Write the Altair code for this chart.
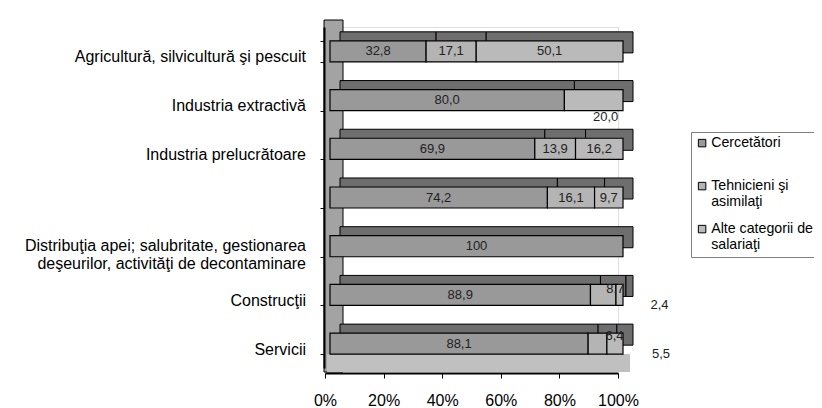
import altair as alt
import pandas as pd

categories = [
    "Agricultură, silvicultură şi pescuit",
    "Industria extractivă",
    "Industria prelucrătoare",
    " ",
    "Distribuţia apei; salubritate, gestionarea|deşeurilor, activităţi de decontaminare",
    "Construcţii",
    "Servicii",
]
series = ["Cercetători|", "Tehnicieni şi|asimilaţi", "Alte categorii de|salariaţi"]
cercetatori = [32.8, 80.0, 69.9, 74.2, 100.0, 88.9, 88.1]
tehnicieni = [17.1, 0.0, 13.9, 16.1, 0.0, 8.7, 6.4]
alte = [50.1, 20.0, 16.2, 9.7, 0.0, 2.4, 5.5]
x_ticks = [0, 20, 40, 60, 80, 100]

colors = ["#999999", "#b4b4b4", "#bababa"]
FONT = "Liberation Sans"


def fmt(v):
    return "100" if v == 100 else f"{v:.1f}".replace(".", ",")


rows = []
for i, cat in enumerate(categories):
    start = 0.0
    for j, vals in enumerate([cercetatori, tehnicieni, alte]):
        v = vals[i]
        if v > 0:
            rows.append(dict(cat=cat, series=series[j], start=start, end=start + v,
                             mid=start + v / 2, label=fmt(v), key=f"{i}-{j}"))
        start += v
df = pd.DataFrame(rows)
cat_df = pd.DataFrame({"cat": categories, "multi": ["|" in c for c in categories]})

# label placement tweaks (style only): key -> (dx, dy)
special = {"1-2": (17, 17), "5-1": (17, -6), "5-2": (45, 10), "6-1": (22, -8), "6-2": (51, 10)}

x_scale = alt.Scale(domain=[0, 100], nice=False)
y_scale = alt.Scale(paddingInner=0.568, paddingOuter=0.284)

x_axis = alt.Axis(values=x_ticks, labelExpr="datum.value + '%'", title=None,
                  domainColor="black", domainWidth=2, offset=5, zindex=1,
                  tickColor="black", tickSize=5, labelFontSize=16, labelFlush=False,
                  labelColor="black", labelFont=FONT, labelPadding=14, grid=False)
y_axis = alt.Axis(title=None, labels=False,
                  domainColor="black", domainWidth=2, offset=1, zindex=1,
                  tickColor="black", tickSize=4, tickBand="extent", grid=False)


def X(field):
    return alt.X(field, scale=x_scale, axis=x_axis)


def Y():
    return alt.Y("cat:N", sort=categories, scale=y_scale, axis=y_axis)


base = alt.Chart(df)

frame = alt.Chart(pd.DataFrame({"lo": [0.0], "hi": [100.0]}))
wall = frame.mark_rect(color="#a3a3a3", stroke="black", strokeWidth=1, xOffset=-1, x2Offset=18).encode(
    x=X("lo:Q"), x2="lo:Q", y=alt.value(-7), y2=alt.value(345))
floor = frame.mark_rect(color="#c0c0c0", xOffset=2, x2Offset=12).encode(
    x=X("lo:Q"), x2="hi:Q", y=alt.value(327), y2=alt.value(345))

back = base.mark_bar(color="#6e6e6e", stroke="black", strokeWidth=1,
                     xOffset=15, x2Offset=15, yOffset=-9, y2Offset=-9).encode(
    x=X("start:Q"), x2="end:Q", y=Y())

front = base.mark_bar(stroke="black", strokeWidth=1.2, xOffset=5, x2Offset=5).encode(
    x=X("start:Q"), x2="end:Q", y=Y(),
    color=alt.Color("series:N", scale=alt.Scale(domain=series, range=colors),
                    legend=alt.Legend(title=None, orient="none", legendX=366, legendY=105,
                                      labelExpr="split(datum.label, '|')",
                                      symbolType="square", symbolSize=56,
                                      symbolStrokeColor="black", symbolStrokeWidth=1,
                                      labelFontSize=14.2, labelFont=FONT, labelColor="black",
                                      labelOffset=2, rowPadding=12,
                                      padding=4, strokeColor="#808080", fillColor="white",
                                      labelLimit=300)),
)

cat_base = alt.Chart(cat_df)
cat_single = cat_base.mark_text(align="right", baseline="middle", fontSize=16, font=FONT,
                                color="black", dy=6).encode(
    x=alt.value(-19), y=Y(), text="cat:N").transform_filter("!datum.multi")
cat_multi = cat_base.mark_text(align="right", baseline="middle", fontSize=16, font=FONT,
                               color="black", dy=0, lineBreak="|", lineHeight=18).encode(
    x=alt.value(-19), y=Y(), text="cat:N").transform_filter("datum.multi")

main_text = base.mark_text(fontSize=13, font=FONT, color="#222222", dx=5).encode(
    x=X("mid:Q"), y=Y(), text="label:N"
).transform_filter(~alt.FieldOneOfPredicate(field="key", oneOf=list(special.keys())))

special_layers = []
for k, (dx, dy) in special.items():
    special_layers.append(
        base.mark_text(fontSize=13, font=FONT, color="#222222", dx=dx, dy=dy).encode(
            x=X("mid:Q"), y=Y(), text="label:N"
        ).transform_filter(alt.datum.key == k)
    )

chart = alt.layer(wall, floor, back, front, cat_single, cat_multi, main_text,
                  *special_layers).properties(
    width=293, height=341,
    autosize=alt.AutoSizeParams(type="none"),
    padding={"left": 317, "top": 19, "right": 196, "bottom": 40},
).configure_view(stroke=None).configure(font=FONT)

chart.save("out.html", embed_options={"renderer": "svg", "actions": False})
